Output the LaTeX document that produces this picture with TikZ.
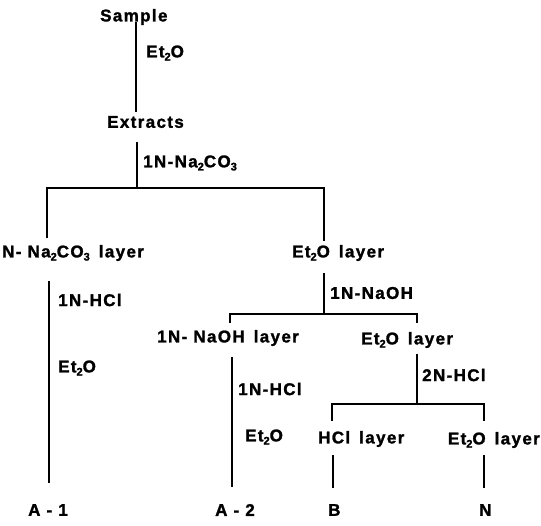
\documentclass[tikz,border=0pt]{standalone}
\usepackage{fontspec}
\setmainfont{Liberation Sans}[LetterSpace=8,BoldFeatures={FakeBold=1.5}]
\newcommand\sbs[1]{\raisebox{-0.35ex}{\fontsize{11}{11}\selectfont #1}}
\newcommand\gap{\hspace{9pt}}
\begin{document}
\begin{tikzpicture}[x=1pt,y=-1pt,
  lbl/.style={anchor=west,inner sep=0pt,font=\fontsize{17}{17}\selectfont\bfseries},
  conn/.style={line width=1.3pt}]
\useasboundingbox (0,0) rectangle (541,525);
% texts
\node[lbl] (sample) at (100,17) {Sample};
\node[lbl] (r1) at (146,53) {Et\sbs{2}O};
\node[lbl] (extracts) at (107,122) {Extracts};
\node[lbl] (r2) at (143,163) {1N-Na\sbs{2}CO\sbs{3}};
\node[lbl] (carb) at (2,253) {N- Na\sbs{2}CO\sbs{3}\gap layer};
\node[lbl] (eth1) at (292,253) {Et\sbs{2}O\gap layer};
\node[lbl] (r3) at (58,300) {1N-HCl};
\node[lbl] (r4) at (58,368) {Et\sbs{2}O};
\node[lbl] (r5) at (330,293) {1N-NaOH};
\node[lbl] (naoh) at (157,338) {1N- NaOH\gap layer};
\node[lbl] (eth2) at (361,340) {Et\sbs{2}O\gap layer};
\node[lbl] (r6) at (238,389) {1N-HCl};
\node[lbl] (r7) at (245,437) {Et\sbs{2}O};
\node[lbl] (r8) at (422,375) {2N-HCl};
\node[lbl] (hcl) at (318,439) {HCl\gap layer};
\node[lbl,anchor=east] (eth3) at (540,440) {Et\sbs{2}O\gap layer};
\node[lbl] (a1) at (28,510) {A - 1};
\node[lbl] (a2) at (215,510) {A - 2};
\node[lbl] (b) at (328,510) {B};
\node[lbl] (n) at (479,510) {N};
% junction coordinates
\coordinate (c1) at (136,22);
\coordinate (c2) at (136,112);
\coordinate (c3) at (137,142);
\coordinate (j1) at (137,188);
\coordinate (j1l) at (47,188);
\coordinate (j1r) at (324,188);
\coordinate (c4) at (47,238);
\coordinate (c5) at (324,241);
\coordinate (c6) at (49,281);
\coordinate (c7) at (49,483);
\coordinate (c8) at (324,273);
\coordinate (j2) at (324,314);
\coordinate (j2l) at (230,314);
\coordinate (j2r) at (417,314);
\coordinate (c9) at (230,323);
\coordinate (c10) at (417,323);
\coordinate (c11) at (232,357);
\coordinate (c12) at (232,487);
\coordinate (c13) at (417,354);
\coordinate (j3) at (417,404);
\coordinate (j3l) at (332,404);
\coordinate (j3r) at (484,404);
\coordinate (c14) at (332,421);
\coordinate (c15) at (484,421);
\coordinate (c16) at (333,455);
\coordinate (c17) at (333,488);
\coordinate (c18) at (484,455);
\coordinate (c19) at (484,488);
% connectors
\draw[conn] (c1) -- (c2);
\draw[conn] (c3) -- (j1);
\draw[conn] (c4) -- (j1l) -- (j1r) -- (c5);
\draw[conn] (c6) -- (c7);
\draw[conn] (c8) -- (j2);
\draw[conn] (c9) -- (j2l) -- (j2r) -- (c10);
\draw[conn] (c11) -- (c12);
\draw[conn] (c13) -- (j3);
\draw[conn] (c14) -- (j3l) -- (j3r) -- (c15);
\draw[conn] (c16) -- (c17);
\draw[conn] (c18) -- (c19);
\end{tikzpicture}
\end{document}
